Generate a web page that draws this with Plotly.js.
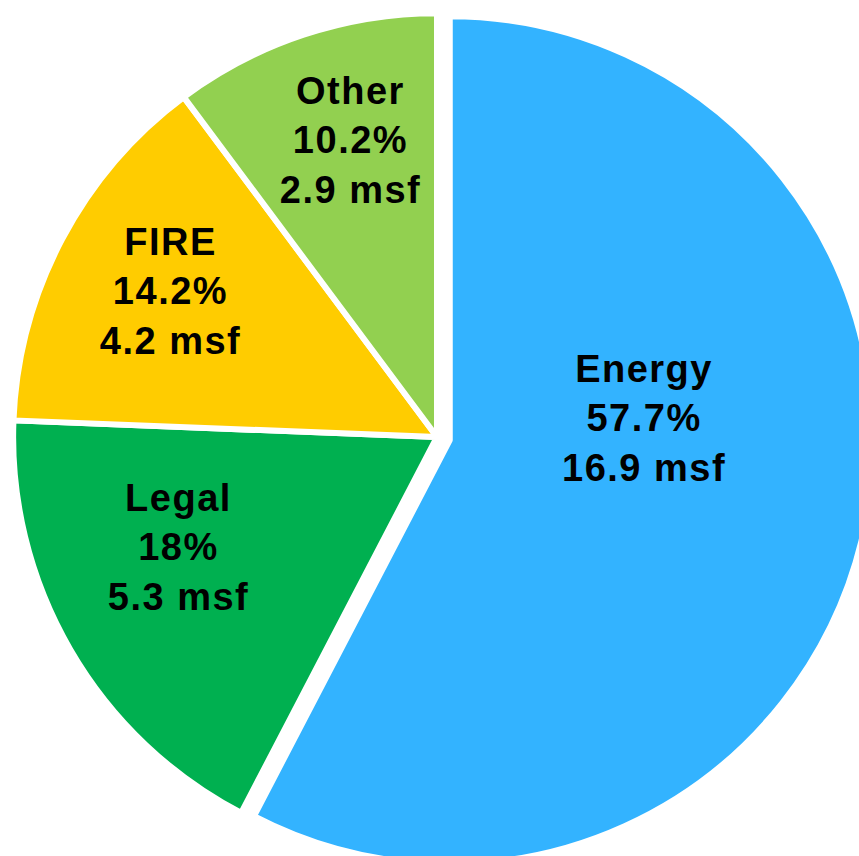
<!DOCTYPE html>
<html>
<head>
<meta charset="utf-8">
<script src="https://cdn.plot.ly/plotly-3.0.1.min.js"></script>
<style>
  html, body { margin: 0; padding: 0; width: 859px; height: 856px; overflow: hidden; background: #fff; }
  #chart { position: absolute; left: 0; top: 0; width: 874px; height: 874px; }
  #chart .annotation-text { letter-spacing: 1.5px; }
</style>
</head>
<body>
<div id="chart"></div>
<script>
// Office space by tenant industry
const sectors = ["Energy", "Legal", "FIRE", "Other"];
const sharePct = [57.7, 18, 14.2, 10.2];
const areaMsf = [16.9, 5.3, 4.2, 2.9];
const sliceColors = ["#33B3FF", "#00B050", "#FFCC00", "#92D050"];
const pullOut = [0.031, 0, 0, 0];

// Label anchor points in paper coordinates, one per slice
const labelX = [0.7365, 0.2045, 0.1953, 0.4013];
const labelY = [0.5217, 0.3730, 0.6670, 0.8398];

const labelText = sectors.map((s, i) => s + "<br>" + sharePct[i] + "%<br>" + areaMsf[i] + " msf");

const trace = {
  type: "pie",
  labels: sectors,
  values: sharePct,
  textinfo: "none",
  hoverinfo: "label+percent",
  sort: false,
  direction: "clockwise",
  rotation: 0,
  pull: pullOut,
  marker: { colors: sliceColors, line: { color: "#ffffff", width: 6 } },
  domain: { x: [0, 1], y: [0, 1] }
};

const labelFont = { family: "Liberation Sans, Arial, sans-serif", size: 38, color: "#000000", weight: "bold" };

const annotations = labelText.map((t, i) => ({
  text: t,
  x: labelX[i],
  y: labelY[i],
  xref: "paper",
  yref: "paper",
  xanchor: "center",
  yanchor: "middle",
  align: "center",
  showarrow: false,
  font: labelFont
}));

const layout = {
  width: 874,
  height: 874,
  margin: { l: 0, r: 0, t: 0, b: 0, pad: 0 },
  showlegend: false,
  paper_bgcolor: "#ffffff",
  plot_bgcolor: "#ffffff",
  annotations: annotations
};

Plotly.newPlot("chart", [trace], layout, { displayModeBar: false, staticPlot: true });
</script>
</body>
</html>
